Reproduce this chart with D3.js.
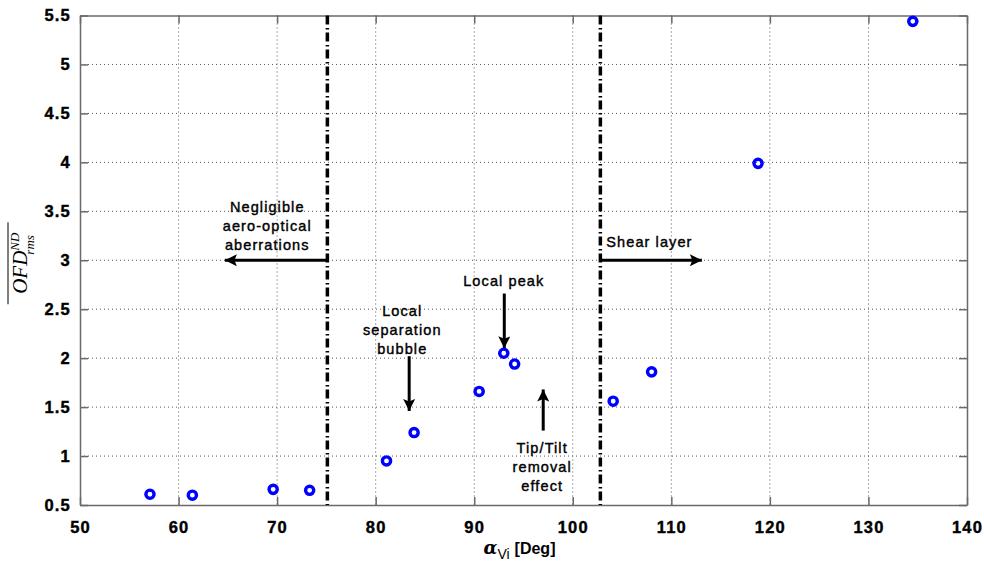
<!DOCTYPE html>
<html>
<head>
<meta charset="utf-8">
<script src="https://cdn.jsdelivr.net/npm/d3@7"></script>
<style>
  body { margin: 0; background: #fff; }
  svg { display: block; }
  .note { font-family: "Liberation Sans", Arial, sans-serif; font-size: 14.5px; letter-spacing: 1.1px; fill: #000; stroke: #000; stroke-width: 0.4px; }
</style>
</head>
<body>
<div id="chart"></div>
<script>
// measured points
const alphaVi = [57.1, 61.4, 69.6, 73.3, 81.1, 83.9, 90.5, 93.0, 94.1, 104.1, 108.0, 118.8, 134.5]
const ofdRms = [0.61, 0.60, 0.66, 0.65, 0.95, 1.24, 1.66, 2.05, 1.94, 1.56, 1.86, 3.99, 5.44]

const xTicks = [50, 60, 70, 80, 90, 100, 110, 120, 130, 140]
const yTicks = [0.5, 1, 1.5, 2, 2.5, 3, 3.5, 4, 4.5, 5, 5.5]

// regime boundaries (dash-dot lines)
const boundaries = [75.1, 102.8]

// annotation text, anchored in data coords
const notes = [
  { x: 69.0, y: 3.49, anchor: "middle", lines: ["Negligible", "aero-optical", "aberrations"] },
  { x: 103.4, y: 3.14, anchor: "start", lines: ["Shear layer"] },
  { x: 93.0, y: 2.74, anchor: "middle", lines: ["Local peak"] },
  { x: 82.7, y: 2.43, anchor: "middle", lines: ["Local", "separation", "bubble"] },
  { x: 96.9, y: 1.03, anchor: "middle", lines: ["Tip/Tilt", "removal", "effect"] },
]

// arrows: from (x1,y1) to tip (x2,y2)
const arrows = [
  { x1: 75.1, y1: 3.0, x2: 64.7, y2: 3.0 },
  { x1: 102.8, y1: 3.0, x2: 113.1, y2: 3.0 },
  { x1: 93.05, y1: 2.66, x2: 93.05, y2: 2.1 },
  { x1: 83.4, y1: 2.02, x2: 83.4, y2: 1.46 },
  { x1: 97.0, y1: 1.26, x2: 97.0, y2: 1.68 },
]

const dimensions = {
  width: 984,
  height: 565,
  margin: { top: 15.5, right: 17, bottom: 60, left: 80 },
}
dimensions.boundedWidth = dimensions.width - dimensions.margin.left - dimensions.margin.right
dimensions.boundedHeight = dimensions.height - dimensions.margin.top - dimensions.margin.bottom

const svg = d3.select("#chart").append("svg")
  .attr("width", dimensions.width)
  .attr("height", dimensions.height)

const bounds = svg.append("g")
  .attr("transform", `translate(${dimensions.margin.left},${dimensions.margin.top})`)

const xScale = d3.scaleLinear().domain([50, 140]).range([0, dimensions.boundedWidth])
const yScale = d3.scaleLinear().domain([0.5, 5.5]).range([dimensions.boundedHeight, 0])

const W = dimensions.boundedWidth
const H = dimensions.boundedHeight

// grid
bounds.append("g").selectAll("line")
  .data(xTicks.slice(1, -1))
  .join("line")
    .attr("x1", d => xScale(d)).attr("x2", d => xScale(d))
    .attr("y1", 0).attr("y2", H)
    .attr("stroke", "#555").attr("stroke-width", 1).attr("stroke-dasharray", "1,3")
bounds.append("g").selectAll("line")
  .data(yTicks.slice(1, -1))
  .join("line")
    .attr("x1", 0).attr("x2", W)
    .attr("y1", d => yScale(d)).attr("y2", d => yScale(d))
    .attr("stroke", "#555").attr("stroke-width", 1).attr("stroke-dasharray", "1,3")

// axes with inner ticks on all four sides
const axisColor = "#6a6a6a"
const styleAxis = g => {
  g.attr("font-family", "Liberation Sans, Arial, sans-serif")
    .attr("font-size", 16.5)
    .attr("font-weight", "bold")
    .attr("letter-spacing", "1.2px")
  g.select(".domain").attr("stroke", axisColor).attr("stroke-width", 1.5)
  g.selectAll(".tick line").attr("stroke", axisColor).attr("stroke-width", 1.5)
  g.selectAll(".tick text").attr("fill", "#000")
    .attr("stroke", "#000").attr("stroke-width", 0.4)
}
bounds.append("g")
  .attr("transform", `translate(0,${H})`)
  .call(d3.axisBottom(xScale).tickValues(xTicks).tickSizeInner(-8).tickSizeOuter(0).tickPadding(16).tickFormat(d3.format("d")))
  .call(styleAxis)
bounds.append("g")
  .call(d3.axisTop(xScale).tickValues(xTicks).tickSizeInner(-8).tickSizeOuter(0).tickFormat(""))
  .call(styleAxis)
bounds.append("g")
  .call(d3.axisLeft(yScale).tickValues(yTicks).tickSizeInner(-8).tickSizeOuter(0).tickPadding(9).tickFormat(d => String(d)))
  .call(styleAxis)
bounds.append("g")
  .attr("transform", `translate(${W},0)`)
  .call(d3.axisRight(yScale).tickValues(yTicks).tickSizeInner(-8).tickSizeOuter(0).tickFormat(""))
  .call(styleAxis)

// dash-dot boundaries
bounds.append("g").selectAll("line")
  .data(boundaries)
  .join("line")
    .attr("x1", d => xScale(d)).attr("x2", d => xScale(d))
    .attr("y1", 0).attr("y2", H)
    .attr("stroke", "#000").attr("stroke-width", 3.5)
    .attr("stroke-dasharray", "9,3.5,1.5,3")

// arrows
const defs = svg.append("defs")
defs.append("marker")
  .attr("id", "head")
  .attr("viewBox", "0 0 10 10")
  .attr("refX", 10).attr("refY", 5)
  .attr("markerWidth", 5.2).attr("markerHeight", 4)
  .attr("markerUnits", "strokeWidth")
  .attr("orient", "auto")
  .append("path")
    .attr("d", "M0,0 L10,5 L0,10 L2,5 Z")
    .attr("fill", "#000")

bounds.append("g").selectAll("line")
  .data(arrows)
  .join("line")
    .attr("x1", d => xScale(d.x1)).attr("y1", d => yScale(d.y1))
    .attr("x2", d => xScale(d.x2)).attr("y2", d => yScale(d.y2))
    .attr("stroke", "#000").attr("stroke-width", 3)
    .attr("marker-end", "url(#head)")

// annotation text
bounds.append("g").selectAll("text")
  .data(notes)
  .join("text")
    .attr("class", "note")
    .attr("text-anchor", d => d.anchor)
    .attr("x", d => xScale(d.x))
    .attr("y", d => yScale(d.y))
    .each(function(d) {
      d3.select(this).selectAll("tspan")
        .data(d.lines)
        .join("tspan")
          .attr("x", xScale(d.x))
          .attr("dy", (l, i) => i === 0 ? 0 : 19)
          .text(l => l)
    })

// points
bounds.append("g").selectAll("circle")
  .data(alphaVi.map((a, i) => ({ a, v: ofdRms[i] })))
  .join("circle")
    .attr("cx", d => xScale(d.a))
    .attr("cy", d => yScale(d.v))
    .attr("r", 4.1)
    .attr("fill", "none")
    .attr("stroke", "#0000ff")
    .attr("stroke-width", 3.4)

// x label
const xLabel = svg.append("text")
  .attr("x", dimensions.margin.left + W / 2 - 4)
  .attr("y", 554)
  .attr("text-anchor", "middle")
  .attr("font-family", "Liberation Sans, Arial, sans-serif")
  .attr("font-weight", "bold")
  .attr("font-size", 16)
xLabel.append("tspan")
  .attr("font-family", "DejaVu Serif, serif")
  .attr("font-style", "italic")
  .attr("font-size", 18)
  .text("α")
xLabel.append("tspan")
  .attr("font-size", 14)
  .attr("font-weight", "normal")
  .attr("dy", 5)
  .text("Vi")
xLabel.append("tspan")
  .attr("dy", -5)
  .attr("dx", 5)
  .text("[Deg]")

// y label
const yLabel = svg.append("g")
  .attr("transform", `translate(27,${dimensions.margin.top + H / 2 + 3}) rotate(-90)`)
const yText = yLabel.append("text")
  .attr("text-anchor", "middle")
  .attr("font-family", "Liberation Serif, serif")
  .attr("font-style", "italic")
  .attr("font-size", 21)
yText.append("tspan").text("OFD")
yText.append("tspan").attr("font-size", 13).attr("dy", -8).text("ND")
yText.append("tspan").attr("font-size", 13).attr("dx", -22).attr("dy", 15).text("rms")
yLabel.append("line")
  .attr("x1", -41).attr("x2", 41)
  .attr("y1", -19).attr("y2", -19)
  .attr("stroke", "#000").attr("stroke-width", 1)
</script>
</body>
</html>
